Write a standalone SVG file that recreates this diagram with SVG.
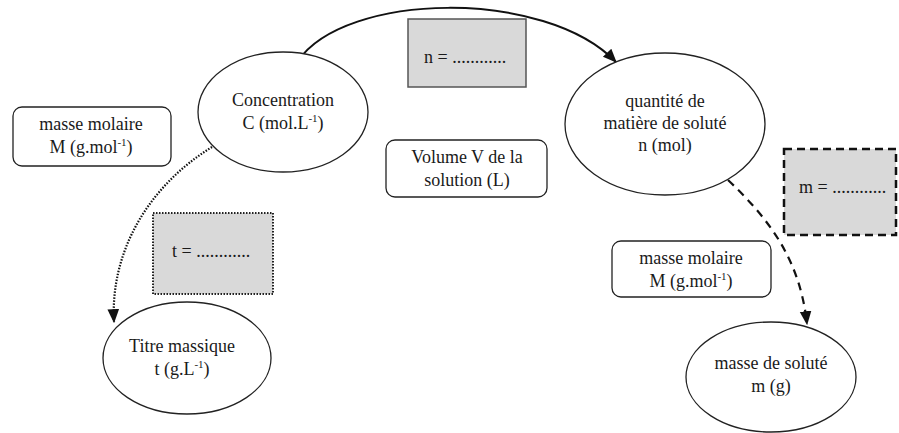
<svg xmlns="http://www.w3.org/2000/svg" width="899" height="433" viewBox="0 0 899 433">
<defs>
<style>
text{font-family:"Liberation Serif","Times New Roman",serif;font-size:18px;fill:#1a1a1a;text-anchor:middle}
.l{text-anchor:start}
.node{fill:#fff;stroke:#222;stroke-width:1.3}
.gray{fill:#d9d9d9}
.conn{fill:none;stroke:#111}
</style>
<marker id="ah" markerUnits="userSpaceOnUse" markerWidth="14" markerHeight="14" viewBox="0 0 12 10" refX="11" refY="5" orient="auto">
<path d="M0 0 L12 5 L0 10 Z" fill="#111"/>
</marker>
</defs>
<rect width="899" height="433" fill="#fff"/>
<g id="connectors">
<path class="conn" d="M298 61 C345 -8 545 -12 616 62" stroke-width="2" marker-end="url(#ah)"/>
<path class="conn" d="M212 147 C150 185 110 250 114 322" stroke-width="2.2" stroke-dasharray="1.5 1.5" marker-end="url(#ah)"/>
<path class="conn" d="M728 180 C770 220 800 260 807 324" stroke-width="2.2" stroke-dasharray="8 6" marker-end="url(#ah)"/>
</g>
<g id="concentration">
<ellipse class="node" cx="283" cy="112" rx="85" ry="60"/>
<text x="283" y="106">Concentration</text>
<text x="283" y="129">C (mol.L<tspan dy="-7" font-size="11">-1</tspan><tspan dy="7">)</tspan></text>
</g>
<g id="quantite">
<ellipse class="node" cx="665" cy="124" rx="100" ry="71"/>
<text x="665" y="107">quantité de</text>
<text x="665" y="129">matière de soluté</text>
<text x="665" y="151">n (mol)</text>
</g>
<g id="titre">
<ellipse class="node" cx="187" cy="358" rx="84" ry="56"/>
<text x="182" y="352">Titre massique</text>
<text x="182" y="375">t (g.L<tspan dy="-7" font-size="11">-1</tspan><tspan dy="7">)</tspan></text>
</g>
<g id="masse-solute">
<ellipse class="node" cx="771" cy="377" rx="85" ry="55"/>
<text x="771" y="369">masse de soluté</text>
<text x="771" y="392">m (g)</text>
</g>
<g id="masse-molaire-1">
<rect class="node" x="13" y="107" width="158" height="59" rx="9"/>
<text x="91" y="130">masse molaire</text>
<text x="91" y="153">M (g.mol<tspan dy="-7" font-size="11">-1</tspan><tspan dy="7">)</tspan></text>
</g>
<g id="volume">
<rect class="node" x="386" y="140" width="161" height="57" rx="9"/>
<text x="467" y="163">Volume V de la</text>
<text x="467" y="186">solution (L)</text>
</g>
<g id="masse-molaire-2">
<rect class="node" x="612" y="241" width="159" height="56" rx="9"/>
<text x="691" y="264">masse molaire</text>
<text x="691" y="287">M (g.mol<tspan dy="-7" font-size="11">-1</tspan><tspan dy="7">)</tspan></text>
</g>
<g id="n-box">
<rect class="gray" x="408" y="19" width="118" height="68" stroke="#555" stroke-width="1.5"/>
<text class="l" x="424" y="63">n = ............</text>
</g>
<g id="m-box">
<rect class="gray" x="784" y="149" width="112" height="86" stroke="#111" stroke-width="2.5" stroke-dasharray="8 5"/>
<text class="l" x="799" y="193">m = ............</text>
</g>
<g id="t-box">
<rect class="gray" x="153" y="213" width="120" height="81" stroke="#222" stroke-width="2" stroke-dasharray="1.5 1.5"/>
<text class="l" x="172" y="257">t = ............</text>
</g>
</svg>
